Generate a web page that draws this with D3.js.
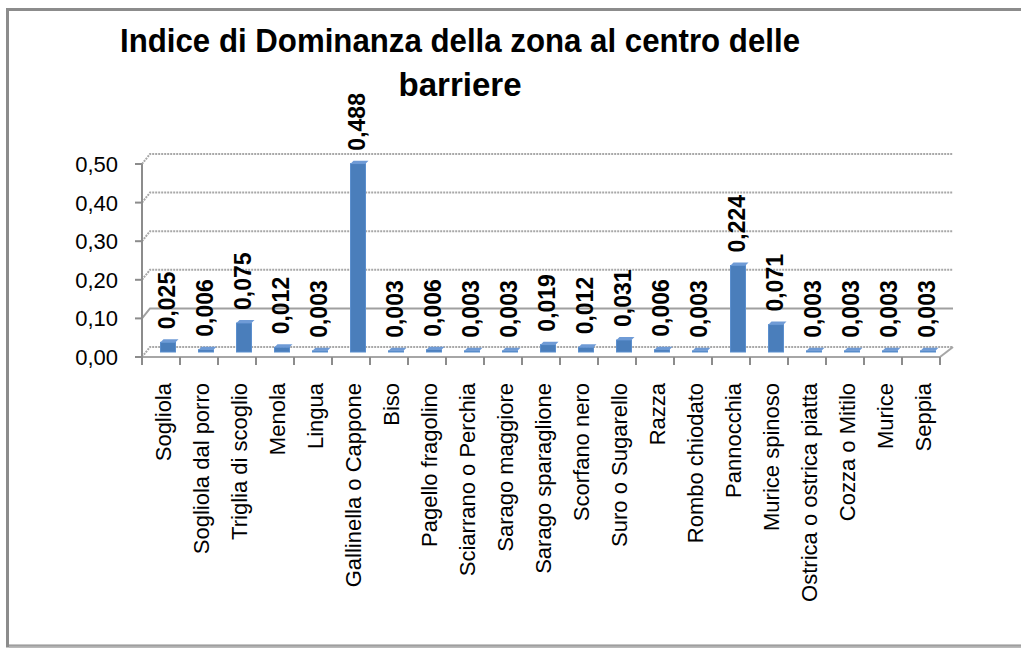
<!DOCTYPE html>
<html>
<head>
<meta charset="utf-8">
<script src="https://cdn.jsdelivr.net/npm/d3@7"></script>
<style>
  html, body { margin: 0; padding: 0; background: #fff; }
  svg { display: block; font-family: "Liberation Sans", Arial, sans-serif; }
</style>
</head>
<body>
<svg id="chart" width="1021" height="648"></svg>
<script>
// Data
const titleLines = ["Indice di Dominanza della zona al centro delle", "barriere"];
const categories = [
  "Sogliola", "Sogliola dal porro", "Triglia di scoglio", "Menola", "Lingua",
  "Gallinella o Cappone", "Biso", "Pagello fragolino", "Sciarrano o Perchia",
  "Sarago maggiore", "Sarago sparaglione", "Scorfano nero", "Suro o Sugarello",
  "Razza", "Rombo chiodato", "Pannocchia", "Murice spinoso",
  "Ostrica o ostrica piatta", "Cozza o Mitilo", "Murice", "Seppia"
];
const values = [
  0.025, 0.006, 0.075, 0.012, 0.003, 0.488, 0.003, 0.006, 0.003, 0.003,
  0.019, 0.012, 0.031, 0.006, 0.003, 0.224, 0.071, 0.003, 0.003, 0.003, 0.003
];
const yTicks = [0, 0.1, 0.2, 0.3, 0.4, 0.5];

const svg = d3.select("#chart");

// Italian number format (comma decimal)
const it = d3.formatLocale({ decimal: ",", thousands: ".", grouping: [3], currency: ["€", ""] });
const fmtTick = it.format(".2f");
const fmtVal  = it.format(".3f");

// Layout
const plotLeft = 142, plotRight = 940, plotBase = 357, plotTop = 164;
const depthX = 8, depthY = -10;   // back wall offset (pseudo 3D)
const barDx = 7, barDy = -5;      // bars sit half way into the depth
const barW = 15;

const x = d3.scaleBand().domain(categories).range([plotLeft, plotRight]).padding(0);
const y = d3.scaleLinear().domain([0, 0.5]).range([plotBase, plotTop]);

// Outer border
svg.append("rect")
  .attr("x", 7.5).attr("y", 9.5)
  .attr("width", 1030).attr("height", 636.5)
  .attr("fill", "#fff")
  .attr("stroke", "#8c8c8c")
  .attr("stroke-width", 3);
svg.append("line")
  .attr("x1", 9).attr("x2", 1021).attr("y1", 646.5).attr("y2", 646.5)
  .attr("stroke", "#b0b0b0").attr("stroke-width", 2);

// Title
const title = svg.append("text")
  .attr("text-anchor", "middle")
  .attr("font-weight", "bold")
  .attr("font-size", 34)
  .attr("fill", "#000");
title.append("tspan").attr("x", 460).attr("y", 52)
  .attr("textLength", 680).attr("lengthAdjust", "spacingAndGlyphs")
  .text(titleLines[0]);
title.append("tspan").attr("x", 460).attr("y", 96)
  .attr("textLength", 123).attr("lengthAdjust", "spacingAndGlyphs")
  .text(titleLines[1]);

// Back wall gridlines with diagonal connectors
const grid = svg.append("g");
yTicks.forEach(t => {
  const yy = y(t);
  grid.append("path")
    .attr("d", `M${plotLeft},${yy} L${plotLeft + depthX},${yy + depthY} L${plotRight + 13},${yy + depthY}`)
    .attr("fill", "none")
    .attr("stroke", t === 0.1 ? "#a0a0a0" : "#a8a8a8")
    .attr("stroke-width", 2)
    .attr("stroke-dasharray", t === 0.1 ? null : "2,1");
});

// Floor front edge and right diagonal
svg.append("line")
  .attr("x1", plotLeft).attr("x2", plotRight).attr("y1", plotBase).attr("y2", plotBase)
  .attr("stroke", "#a6a6a6").attr("stroke-width", 2);
svg.append("line")
  .attr("x1", plotRight).attr("y1", plotBase).attr("x2", plotRight + 13).attr("y2", plotBase + depthY)
  .attr("stroke", "#a6a6a6").attr("stroke-width", 2);

// Y axis
const yAxis = svg.append("g");
yAxis.append("line")
  .attr("x1", plotLeft).attr("x2", plotLeft).attr("y1", y(0.5)).attr("y2", plotBase + 5)
  .attr("stroke", "#8c8c8c").attr("stroke-width", 2);
yAxis.selectAll(".tick")
  .data(yTicks)
  .join("line")
  .attr("x1", plotLeft - 7).attr("x2", plotLeft)
  .attr("y1", d => y(d)).attr("y2", d => y(d))
  .attr("stroke", "#8c8c8c").attr("stroke-width", 2);
yAxis.selectAll(".lbl")
  .data(yTicks)
  .join("text")
  .attr("x", 118)
  .attr("y", d => y(d))
  .attr("dy", "0.36em")
  .attr("text-anchor", "end")
  .attr("font-size", 22)
  .attr("fill", "#000")
  .text(d => fmtTick(d));

// X axis ticks
svg.append("g").selectAll("line")
  .data(categories.concat(["__end"]))
  .join("line")
  .attr("x1", (d, i) => plotLeft + i * x.step())
  .attr("x2", (d, i) => plotLeft + i * x.step())
  .attr("y1", plotBase).attr("y2", plotBase + 8)
  .attr("stroke", "#8c8c8c").attr("stroke-width", 2);

// Category labels (rotated)
svg.append("g").selectAll("text")
  .data(categories)
  .join("text")
  .attr("transform", d => `translate(${x(d) + x.bandwidth() / 2 + 2},383) rotate(-90)`)
  .attr("dy", "0.35em")
  .attr("text-anchor", "end")
  .attr("font-size", 22)
  .attr("fill", "#000")
  .text(d => d);

// Bars
const barsG = svg.append("g");
const bars = categories.map((c, i) => ({ cat: c, v: values[i] }));
barsG.selectAll("rect")
  .data(bars)
  .join("rect")
  .attr("x", d => x(d.cat) + x.bandwidth() / 2 + barDx - barW / 2)
  .attr("y", d => y(d.v) + barDy)
  .attr("width", barW)
  .attr("height", d => plotBase - y(d.v))
  .attr("fill", "#4a7ebb")
  .attr("stroke", "#5b8fce")
  .attr("stroke-width", 1);
// top face of each column
barsG.selectAll("path")
  .data(bars)
  .join("path")
  .attr("d", d => {
    const x0 = x(d.cat) + x.bandwidth() / 2 + barDx - barW / 2;
    const y0 = y(d.v) + barDy;
    return `M${x0},${y0} L${x0 + barW},${y0} L${x0 + barW + 3},${y0 - 3} L${x0 + 3},${y0 - 3} Z`;
  })
  .attr("fill", "#6f9bd6");

// Value labels
svg.append("g").selectAll("text")
  .data(bars)
  .join("text")
  .attr("transform", d => `translate(${x(d.cat) + x.bandwidth() / 2 + barDx - 1},${y(d.v) + barDy - 13}) rotate(-90)`)
  .attr("dy", "0.36em")
  .attr("text-anchor", "start")
  .attr("font-size", 23)
  .attr("font-weight", "bold")
  .attr("fill", "#000")
  .text(d => fmtVal(d.v));
</script>
</body>
</html>
